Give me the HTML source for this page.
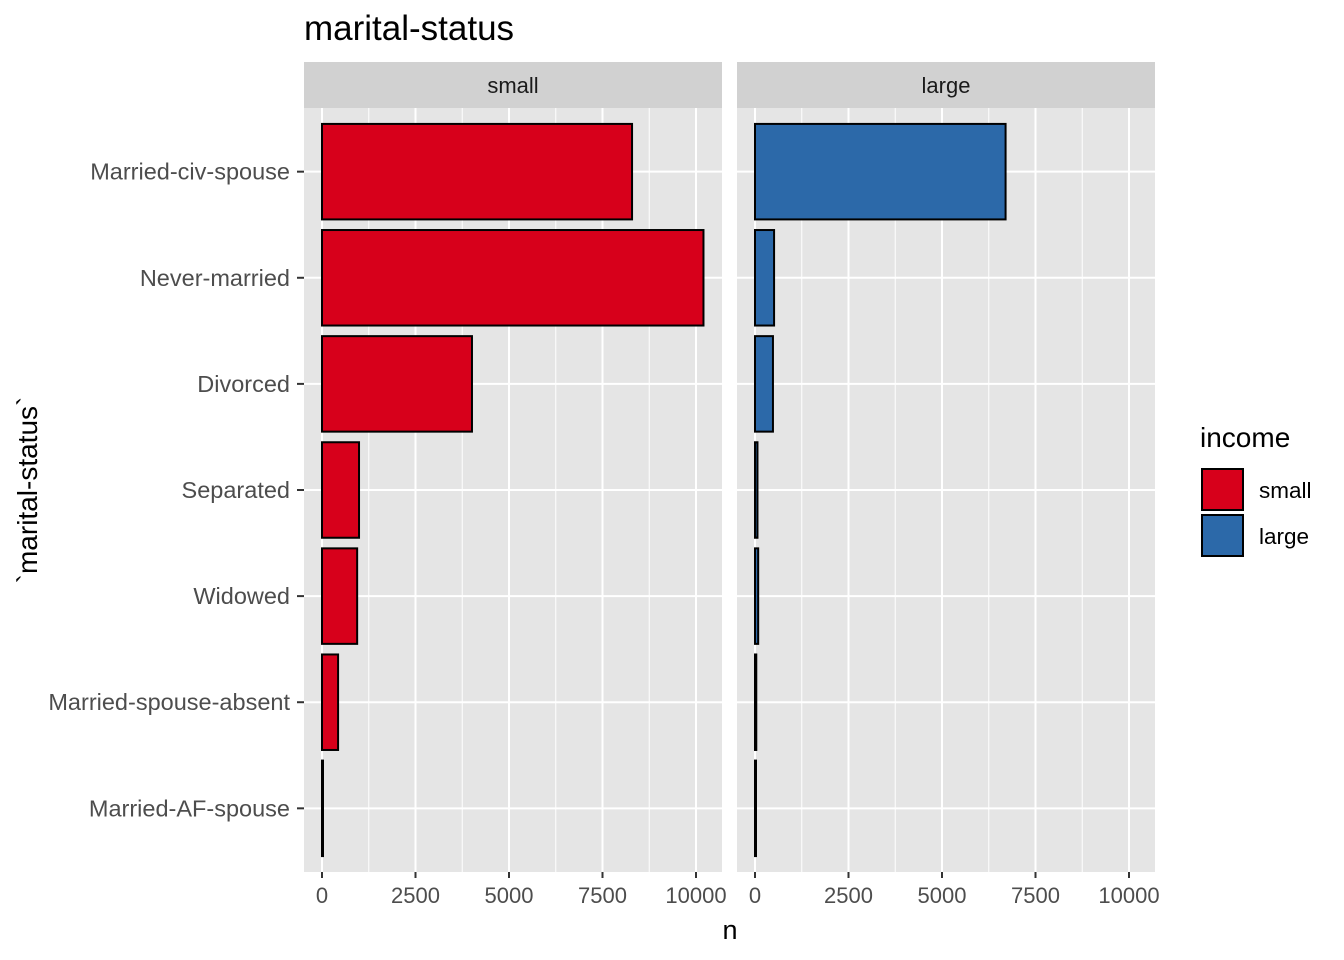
<!DOCTYPE html>
<html><head><meta charset="utf-8"><style>
body{margin:0;background:#fff;}
svg{display:block;font-family:"Liberation Sans",Arial,sans-serif;}
</style></head><body>
<svg id="chart" width="1344" height="960" xmlns="http://www.w3.org/2000/svg"></svg>
<script>
const categories=["Married-civ-spouse","Never-married","Divorced","Separated","Widowed","Married-spouse-absent","Married-AF-spouse"];
const smallValues=[8290,10200,4010,990,940,430,14];
const largeValues=[6700,510,480,66,85,34,10];
const xTicks=[0,2500,5000,7500,10000];
const xMinor=[1250,3750,6250,8750];
const panels=[{label:"small",values:smallValues,x0:304,x1:722,fill:"#D7001B"},{label:"large",values:largeValues,x0:737,x1:1155,fill:"#2C69A9"}];
const NS="http://www.w3.org/2000/svg";
const svg=document.getElementById('chart');
function mk(t,a,p){const e=document.createElementNS(NS,t);for(const k in a)e.setAttribute(k,a[k]);(p||svg).appendChild(e);return e;}
const pTop=108,pBot=872;
const step=(pBot-pTop)/(categories.length+0.2);
function yPos(i){return pTop+step*(i+0.6);}
panels.forEach((p,pi)=>{
  const sx=v=>p.x0+18+v*(374/10000);
  const g=mk('g',{});
  
  
  const bg=mk('rect',{x:p.x0,y:pTop,width:p.x1-p.x0,height:pBot-pTop,fill:'#E5E5E5'},g);
  
  
  xMinor.forEach(v=>mk('line',{x1:sx(v),x2:sx(v),y1:pTop,y2:pBot,stroke:'#fff','stroke-width':1},g));
  xTicks.forEach(v=>mk('line',{x1:sx(v),x2:sx(v),y1:pTop,y2:pBot,stroke:'#fff','stroke-width':2},g));
  categories.forEach((c,i)=>mk('line',{x1:p.x0,x2:p.x1,y1:yPos(i),y2:yPos(i),stroke:'#fff','stroke-width':2},g));
  p.values.forEach((v,i)=>{
    const h=step*0.9;
    const r=mk('rect',{x:sx(0),y:yPos(i)-h/2,width:Math.max(sx(v)-sx(0),1),height:h,fill:p.fill,stroke:'#000','stroke-width':2},g);
    
    
  });
  const st=mk('rect',{x:p.x0,y:62,width:p.x1-p.x0,height:46,fill:'#D1D1D1'});
  
  
  const stt=mk('text',{x:(p.x0+p.x1)/2,y:93,'text-anchor':'middle','font-size':22,fill:'#1A1A1A'});
  stt.textContent=p.label;
  
  
  xTicks.forEach(v=>{
    mk('line',{x1:sx(v),x2:sx(v),y1:pBot,y2:pBot+6,stroke:'#333','stroke-width':2});
    const t=mk('text',{x:sx(v),y:pBot+31,'text-anchor':'middle','font-size':22,fill:'#4D4D4D'});
    t.textContent=v;
    
    
  });
});
categories.forEach((c,i)=>{
  mk('line',{x1:297,x2:304,y1:yPos(i),y2:yPos(i),stroke:'#333','stroke-width':2});
  const t=mk('text',{x:290,y:yPos(i)+8,'text-anchor':'end','font-size':23.5,fill:'#4D4D4D'});
  t.textContent=c;
  
  
});
let t=mk('text',{x:304,y:40,'font-size':35,fill:'#000'});t.textContent='marital-status';


t=mk('text',{x:730,y:939,'text-anchor':'middle','font-size':27,fill:'#000'});t.textContent='n';


t=mk('text',{x:0,y:0,'text-anchor':'middle','font-size':28,fill:'#000',transform:'translate(37,490) rotate(-90)'});t.textContent='`marital-status`';


t=mk('text',{x:1200,y:447,'font-size':28,fill:'#000'});t.textContent='income';


[["small","#D7001B",468],["large","#2C69A9",514]].forEach(([l,c,y])=>{
  const r=mk('rect',{x:1202,y:y+1,width:41,height:41,fill:c,stroke:'#000','stroke-width':2});
  
  
  const tt=mk('text',{x:1259,y:y+30,'font-size':22.5,fill:'#000'});tt.textContent=l;
  
  
});
</script>
</body></html>
